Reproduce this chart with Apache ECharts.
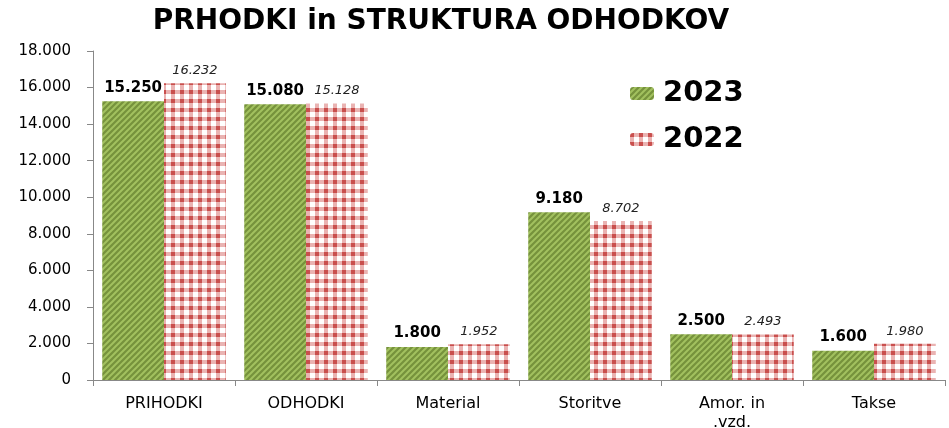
<!DOCTYPE html>
<html>
<head>
<meta charset="utf-8">
<script src="https://cdn.jsdelivr.net/npm/echarts@6/dist/echarts.min.js"></script>
<style>
  html, body { margin: 0; padding: 0; background: #fff; }
  #main { width: 949px; height: 428px; }
</style>
</head>
<body>
<div id="main"></div>
<script>
// podatki
var categories = ['PRIHODKI', 'ODHODKI', 'Material', 'Storitve', 'Amor. in\n.vzd.', 'Takse'];
var values2023 = [15250, 15080, 1800, 9180, 2500, 1600];
var values2022 = [16232, 15128, 1952, 8702, 2493, 1980];
var yTicks = [0, 2000, 4000, 6000, 8000, 10000, 12000, 14000, 16000, 18000];

// 15250 -> 15.250
function fmt(v) {
  return String(v).replace(/\B(?=(\d{3})+(?!\d))/g, '.');
}

// zelena s poševnimi črtami
function greenPattern() {
  var c = document.createElement('canvas');
  c.width = 6; c.height = 6;
  var ctx = c.getContext('2d');
  ctx.fillStyle = '#76923c';
  ctx.fillRect(0, 0, 6, 6);
  ctx.strokeStyle = '#a2c15f';
  ctx.lineWidth = 2;
  ctx.beginPath();
  ctx.moveTo(-1, 7); ctx.lineTo(7, -1);
  ctx.moveTo(-4, 4); ctx.lineTo(4, -4);
  ctx.moveTo(2, 10); ctx.lineTo(10, 2);
  ctx.stroke();
  return c;
}

// rdeče-bel karo
function redPattern() {
  var c = document.createElement('canvas');
  c.width = 9; c.height = 9;
  var ctx = c.getContext('2d');
  ctx.fillStyle = '#ffffff';
  ctx.fillRect(0, 0, 9, 9);
  ctx.fillStyle = '#eab3b2';
  ctx.fillRect(0, 0, 9, 4);
  ctx.fillRect(0, 0, 4, 9);
  ctx.fillStyle = '#c94f4d';
  ctx.fillRect(0, 0, 4, 4);
  return c;
}

var chart = echarts.init(document.getElementById('main'));
var greenFill = { image: greenPattern(), repeat: 'repeat' };
var redFill = { image: redPattern(), repeat: 'repeat' };

chart.setOption({
  animation: false,
  title: {
    text: 'PRHODKI in STRUKTURA ODHODKOV',
    left: 436,
    textAlign: 'center',
    top: 3,
    textStyle: { fontFamily: 'DejaVu Sans', fontWeight: 'bold', fontSize: 28, color: '#000' }
  },
  legend: {
    left: 625,
    top: 74,
    orient: 'vertical',
    itemGap: 17,
    itemWidth: 24,
    itemHeight: 13,
    data: ['2023', '2022'],
    textStyle: { fontFamily: 'DejaVu Sans', fontWeight: 'bold', fontSize: 29, color: '#000', padding: [0, 0, 0, 4] }
  },
  grid: { left: 93, right: 4, top: 51, bottom: 48, outerBoundsMode: 'none' },
  xAxis: {
    type: 'category',
    data: categories,
    axisLine: { lineStyle: { color: '#888', width: 1 } },
    axisTick: { show: true, length: 6, lineStyle: { color: '#888' } },
    axisLabel: {
      margin: 14,
      fontFamily: 'DejaVu Sans',
      fontSize: 16,
      color: '#000',
      lineHeight: 19
    }
  },
  yAxis: {
    type: 'value',
    min: 0,
    max: 18000,
    interval: 2000,
    splitLine: { show: false },
    axisLine: { show: true, lineStyle: { color: '#888', width: 1 } },
    axisTick: { show: true, length: 6, lineStyle: { color: '#888' } },
    axisLabel: {
      margin: 22,
      fontFamily: 'DejaVu Sans',
      fontSize: 15,
      color: '#000',
      formatter: function (v) { return yTicks.indexOf(v) >= 0 ? fmt(v) : ''; }
    }
  },
  series: [
    {
      name: '2023',
      type: 'bar',
      data: values2023,
      barGap: '0%',
      barCategoryGap: '13%',
      itemStyle: { color: greenFill },
      label: {
        show: true,
        position: 'top',
        distance: 6,
        fontFamily: 'DejaVu Sans',
        fontWeight: 'bold',
        fontSize: 15,
        color: '#000',
        formatter: function (p) { return fmt(p.value); }
      }
    },
    {
      name: '2022',
      type: 'bar',
      data: values2022,
      itemStyle: { color: redFill },
      label: {
        show: true,
        position: 'top',
        distance: 6,
        fontFamily: 'DejaVu Sans',
        fontStyle: 'italic',
        fontSize: 13,
        color: '#222',
        formatter: function (p) { return fmt(p.value); }
      }
    }
  ]
});
</script>
</body>
</html>
